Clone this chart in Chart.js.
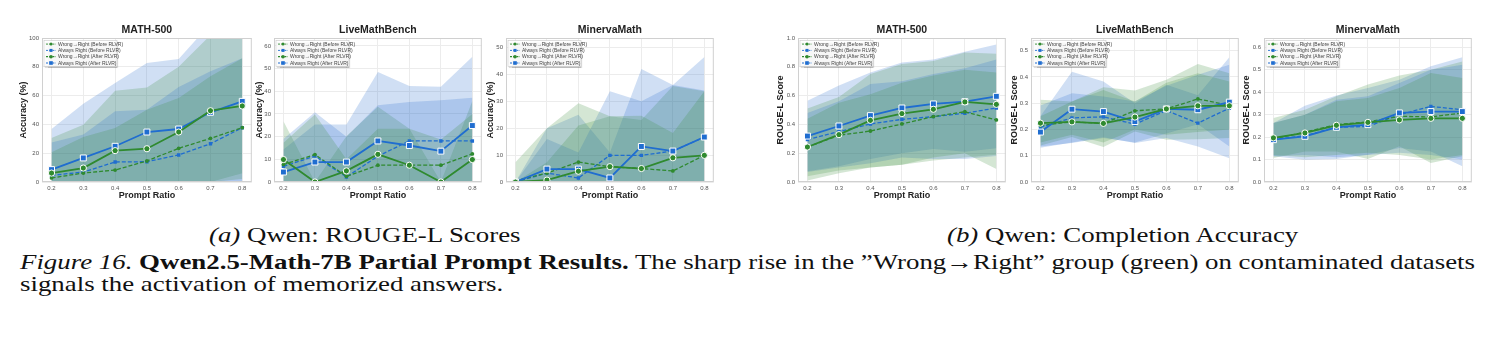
<!DOCTYPE html>
<html>
<head>
<meta charset="utf-8">
<script src="https://cdn.jsdelivr.net/npm/chart.js@4.4.0/dist/chart.umd.min.js"></script>
<style>
  body { margin: 0; background: #fff; width: 1493px; height: 345px; position: relative; overflow: hidden; }
  canvas { position: absolute; top: 0; }
  .cap { position: absolute; font-family: "Liberation Serif", "Times New Roman", serif; font-size: 21px; line-height: 22px; color: #111; white-space: nowrap; transform-origin: left top; }
</style>
</head>
<body>
<div class="cap" id="subA" style="top:224px"><i>(a)</i> Qwen: ROUGE-L Scores</div>
<div class="cap" id="subB" style="top:224px"><i>(b)</i> Qwen: Completion Accuracy</div>
<div class="cap" id="line1" style="left:20px;top:251px"><i>Figure 16.</i> <b>Qwen2.5-Math-7B Partial Prompt Results.</b> The sharp rise in the ”Wrong→Right” group (green) on contaminated datasets</div>
<div class="cap" id="line2" style="left:20px;top:273px">signals the activation of memorized answers.</div>

<script>
// x values and series names (series order: W->R before, AR before, W->R after, AR after)
const ratios = [0.2, 0.3, 0.4, 0.5, 0.6, 0.7, 0.8];
const seriesNames = ['Wrong→Right (Before RLVR)', 'Always Right (Before RLVR)', 'Wrong→Right (After RLVR)', 'Always Right (After RLVR)'];
const panelTitles = ['MATH-500', 'LiveMathBench', 'MinervaMath', 'MATH-500', 'LiveMathBench', 'MinervaMath'];

// accuracy panels
const accMathTicks = [0, 20, 40, 60, 80, 100];
const accMathMean = [
  [2.8, 6.2, 8.3, 14.6, 23.4, 30.3, 37.7],
  [4.6, 6.9, 13.9, 14.1, 18.8, 26.6, 37.7],
  [6.2, 9.7, 21.8, 23.1, 34.7, 49.5, 52.8],
  [8.6, 16.7, 24.8, 34.7, 36.8, 48.4, 56.0]
];
const accMathUpper = [
  [20.6, 31.3, 37.5, 50.2, 58.3, 73.4, 86],
  [27.5, 32.9, 49.1, 50.2, 66, 76.9, 86],
  [30.6, 39.8, 63.4, 65.7, 80, 102, 115],
  [36.8, 54.4, 68.7, 82.6, 85.4, 110, 112]
];
const accMathLower = [
  [0, 0, 0, 0, 0, 0, 2],
  [0, 0, 0, 0, 0, 0, 0],
  [0, 0, 0, 0, 0, 0, 6],
  [0, 0, 0, 0, 0, 0, 0]
];

const accLiveTicks = [0, 10, 20, 30, 40, 50, 60];
const accLiveMean = [
  [7.7, 12.1, 2.5, 7.4, 7.4, 7.4, 12.4],
  [6.9, 11.4, 2.2, 11.4, 18.1, 18.1, 18.1],
  [9.9, 0, 4.9, 12.2, 7.4, 0, 9.9],
  [4.4, 8.8, 8.8, 18.1, 16.1, 13.6, 24.9]
];
const accLiveUpper = [
  [17.3, 29.8, 10, 23.5, 23.5, 18.7, 30],
  [19, 30.8, 20, 33.8, 35.3, 36.1, 37.2],
  [26.8, 0, 20.2, 33.2, 23.5, 0, 35.7],
  [14.3, 25.4, 25.4, 48.5, 42.3, 42, 55.2]
];
const accLiveLower = [
  [0, 0, 0, 0, 0, 0, 0],
  [0, 0, 0, 0, 0, 0, 0],
  [0, 0, 0, 0, 0, 0, 0],
  [0, 0, 0, 0, 0, 0, 0]
];

const accMinervaTicks = [0, 10, 20, 30, 40, 50];
const accMinervaMean = [
  [0.5, 3.3, 7.4, 5.7, 5.0, 4.1, 9.9],
  [0, 3.3, 1.5, 9.9, 9.9, 11.5, 16.7],
  [0, 0.7, 4.0, 5.7, 5.0, 9.0, 9.9],
  [0, 4.8, 4.8, 1.5, 13.2, 11.5, 16.7]
];
const accMinervaUpper = [
  [7.3, 20, 29.3, 24.4, 24.6, 18.2, 33.7],
  [0, 16, 11, 33.7, 30, 36, 34],
  [0, 7.3, 21, 24.4, 23, 35.7, 33.7],
  [0, 20, 25, 11, 42, 36, 46.4]
];
const accMinervaLower = [
  [0, 0, 0, 0, 0, 0, 0],
  [0, 0, 0, 0, 0, 0, 0],
  [0, 0, 0, 0, 0, 0, 0],
  [0, 0, 0, 0, 0, 0, 0]
];

// ROUGE-L panels
const rougeMathTicks = [0, 0.2, 0.4, 0.6, 0.8, 1.0];
const rougeMathMean = [
  [0.243, 0.324, 0.354, 0.403, 0.454, 0.488, 0.431],
  [0.294, 0.35, 0.403, 0.435, 0.454, 0.477, 0.514],
  [0.243, 0.329, 0.428, 0.475, 0.505, 0.556, 0.539],
  [0.319, 0.389, 0.461, 0.514, 0.542, 0.558, 0.595]
];
const rougeMathUpper = [
  [0.44, 0.55, 0.61, 0.69, 0.74, 0.78, 0.76],
  [0.48, 0.56, 0.68, 0.70, 0.75, 0.79, 0.85],
  [0.51, 0.59, 0.75, 0.82, 0.84, 0.90, 0.89],
  [0.565, 0.67, 0.76, 0.83, 0.85, 0.905, 0.955]
];
const rougeMathLower = [
  [0.04, 0.08, 0.10, 0.12, 0.17, 0.20, 0.09],
  [0.07, 0.10, 0.13, 0.17, 0.16, 0.16, 0.18],
  [0.01, 0.06, 0.10, 0.12, 0.15, 0.17, 0.19],
  [0.075, 0.11, 0.16, 0.20, 0.23, 0.21, 0.235]
];

const rougeLiveTicks = [0, 0.1, 0.2, 0.3, 0.4, 0.5];
const rougeLiveMean = [
  [0.215, 0.229, 0.223, 0.271, 0.278, 0.316, 0.292],
  [0.208, 0.244, 0.248, 0.22, 0.272, 0.224, 0.281],
  [0.224, 0.229, 0.223, 0.247, 0.278, 0.29, 0.29],
  [0.19, 0.277, 0.268, 0.23, 0.278, 0.275, 0.304]
];
const rougeLiveUpper = [
  [0.25, 0.306, 0.35, 0.306, 0.378, 0.414, 0.382],
  [0.291, 0.338, 0.325, 0.306, 0.366, 0.408, 0.446],
  [0.313, 0.306, 0.361, 0.348, 0.389, 0.449, 0.414],
  [0.25, 0.42, 0.382, 0.30, 0.37, 0.33, 0.475]
];
const rougeLiveLower = [
  [0.15, 0.18, 0.15, 0.20, 0.18, 0.19, 0.20],
  [0.13, 0.15, 0.17, 0.148, 0.167, 0.135, 0.09],
  [0.139, 0.171, 0.133, 0.192, 0.161, 0.163, 0.167],
  [0.135, 0.148, 0.167, 0.15, 0.185, 0.22, 0.135]
];

const rougeMinervaTicks = [0, 0.1, 0.2, 0.3, 0.4, 0.5, 0.6];
const rougeMinervaMean = [
  [0.191, 0.222, 0.255, 0.267, 0.292, 0.289, 0.307],
  [0.188, 0.206, 0.243, 0.247, 0.299, 0.336, 0.321],
  [0.196, 0.218, 0.252, 0.265, 0.276, 0.283, 0.283],
  [0.188, 0.203, 0.243, 0.255, 0.307, 0.313, 0.313]
];
const rougeMinervaUpper = [
  [0.262, 0.299, 0.359, 0.373, 0.418, 0.484, 0.462],
  [0.262, 0.299, 0.366, 0.381, 0.44, 0.499, 0.521],
  [0.284, 0.321, 0.381, 0.433, 0.473, 0.499, 0.536],
  [0.262, 0.339, 0.385, 0.418, 0.455, 0.514, 0.554]
];
const rougeMinervaLower = [
  [0.12, 0.11, 0.12, 0.13, 0.12, 0.10, 0.12],
  [0.114, 0.12, 0.11, 0.12, 0.13, 0.12, 0.10],
  [0.107, 0.136, 0.136, 0.102, 0.159, 0.084, 0.114],
  [0.114, 0.099, 0.102, 0.121, 0.151, 0.136, 0.07]
];

const GREEN = '#2f8a2f', BLUE = '#1f6dd0';
const seriesStyle = [
  { color: GREEN, band: 'rgba(60,140,60,0.22)', dashed: true, point: 'circle' },
  { color: BLUE, band: 'rgba(40,110,205,0.22)', dashed: true, point: 'rect' },
  { color: GREEN, band: 'rgba(60,140,60,0.22)', dashed: false, point: 'circle' },
  { color: BLUE, band: 'rgba(40,110,205,0.22)', dashed: false, point: 'rect' }
];

const panels = [
  { mean: accMathMean, up: accMathUpper, lo: accMathLower, ticks: accMathTicks, yMax: 100, dec: 0, yTitle: 'Accuracy (%)', left: 42, w: 211, tPad: 16.6 },
  { mean: accLiveMean, up: accLiveUpper, lo: accLiveLower, ticks: accLiveTicks, yMax: 63.5, dec: 0, yTitle: 'Accuracy (%)', left: 274, w: 209, tPad: 19.9 },
  { mean: accMinervaMean, up: accMinervaUpper, lo: accMinervaLower, ticks: accMinervaTicks, yMax: 53.5, dec: 0, yTitle: 'Accuracy (%)', left: 506, w: 209, tPad: 19.3 },
  { mean: rougeMathMean, up: rougeMathUpper, lo: rougeMathLower, ticks: rougeMathTicks, yMax: 1.0, dec: 1, yTitle: 'ROUGE-L Score', left: 798, w: 209, tPad: 17.6 },
  { mean: rougeLiveMean, up: rougeLiveUpper, lo: rougeLiveLower, ticks: rougeLiveTicks, yMax: 0.548, dec: 1, yTitle: 'ROUGE-L Score', left: 1031, w: 209, tPad: 18.1 },
  { mean: rougeMinervaMean, up: rougeMinervaUpper, lo: rougeMinervaLower, ticks: rougeMinervaTicks, yMax: 0.64, dec: 1, yTitle: 'ROUGE-L Score', left: 1264, w: 209, tPad: 17.6 }
];

const toPts = arr => arr.map((v, i) => ({ x: ratios[i], y: v }));

function drawMarker(ctx, style, x, y, r) {
  ctx.beginPath();
  if (style === 'rect') ctx.rect(x - r, y - r, 2 * r, 2 * r);
  else ctx.arc(x, y, r, 0, Math.PI * 2);
  ctx.fill();
}

// frame, panel title and the small legend box inside the plot
const panelDecor = {
  id: 'panelDecor',
  afterDatasetsDraw(chart) {
    const { ctx, chartArea: a } = chart;
    ctx.save();
    ctx.strokeStyle = '#d0d0d0';
    ctx.lineWidth = 1;
    ctx.strokeRect(a.left + 0.5, a.top + 0.5, a.width - 1, a.height - 1);
    ctx.restore();
  },
  afterDraw(chart, args, opts) {
    const { ctx, chartArea: a } = chart;
    ctx.save();
    ctx.font = 'bold 10.5px "Liberation Sans", Arial, sans-serif';
    ctx.fillStyle = '#222';
    ctx.textAlign = 'center';
    ctx.textBaseline = 'middle';
    ctx.fillText(opts.title, (a.left + a.right) / 2, a.top - 8);

    const bx = a.left + 2, by = a.top + 2.5, bw = 73, bh = 26;
    ctx.shadowColor = 'rgba(0,0,0,0.3)';
    ctx.shadowOffsetX = 1;
    ctx.shadowOffsetY = 1;
    ctx.shadowBlur = 1;
    ctx.fillStyle = 'rgba(255,255,255,0.88)';
    ctx.fillRect(bx, by, bw, bh);
    ctx.shadowColor = 'transparent';
    ctx.strokeStyle = '#c8c8c8';
    ctx.lineWidth = 0.6;
    ctx.strokeRect(bx, by, bw, bh);

    seriesNames.forEach((name, i) => {
      const s = seriesStyle[i];
      const y = by + 3.6 + i * 6.3;
      ctx.strokeStyle = s.color;
      ctx.fillStyle = s.color;
      ctx.lineWidth = s.dashed ? 0.9 : 1.2;
      ctx.setLineDash([2, 1.2]);
      ctx.beginPath();
      ctx.moveTo(bx + 2, y);
      ctx.lineTo(bx + 12, y);
      ctx.stroke();
      ctx.setLineDash([]);
      drawMarker(ctx, s.point, bx + 7, y, s.dashed ? 1.5 : 1.8);
      ctx.fillStyle = '#444';
      ctx.font = '5px "Liberation Sans", Arial, sans-serif';
      ctx.textAlign = 'left';
      ctx.fillText(name, bx + 14, y + 0.3);
    });
    ctx.restore();
  }
};

panels.forEach((p, k) => {
  const canvas = document.createElement('canvas');
  canvas.width = p.w + 44;
  canvas.height = 205;
  canvas.style.left = (p.left - 40) + 'px';
  document.body.appendChild(canvas);

  const datasets = [];
  p.mean.forEach((m, i) => {
    const s = seriesStyle[i];
    datasets.push({
      data: toPts(m),
      borderColor: s.color,
      backgroundColor: s.color,
      borderWidth: s.dashed ? 1.3 : 1.8,
      borderDash: s.dashed ? [4, 2] : [],
      pointStyle: s.point,
      pointRadius: s.dashed ? (s.point === 'rect' ? 2.4 : 1.9) : (s.point === 'rect' ? 4.2 : 3.1),
      pointBackgroundColor: s.color,
      pointBorderColor: s.dashed ? s.color : '#fff',
      pointBorderWidth: s.dashed ? 0 : 1,
      fill: false,
      tension: 0,
      order: s.dashed ? 1 : 0
    });
  });
  p.up.forEach((u, i) => {
    const s = seriesStyle[i];
    datasets.push({
      data: toPts(u), fill: '+1', backgroundColor: s.band,
      borderColor: 'transparent', borderWidth: 0, pointRadius: 0, tension: 0, order: 2
    });
    datasets.push({
      data: toPts(p.lo[i]), fill: false,
      borderColor: 'transparent', borderWidth: 0, pointRadius: 0, tension: 0, order: 2
    });
  });

  new Chart(canvas.getContext('2d'), {
    type: 'line',
    data: { datasets },
    plugins: [panelDecor],
    options: {
      responsive: false,
      animation: false,
      layout: { padding: { top: 38, right: 4, left: 0, bottom: 0 } },
      plugins: {
        legend: { display: false },
        tooltip: { enabled: false },
        filler: { drawTime: 'beforeDatasetsDraw' },
        panelDecor: { title: panelTitles[k] }
      },
      scales: {
        x: {
          type: 'linear',
          min: 0.17,
          max: 0.83,
          afterBuildTicks: s => { s.ticks = ratios.map(v => ({ value: v })); },
          afterFit: s => { s.height = 23; },
          ticks: {
            callback: v => v.toFixed(1),
            font: { family: '"Liberation Sans", Arial, sans-serif', size: 6 },
            color: '#555', padding: 3, maxRotation: 0, autoSkip: false
          },
          grid: { color: '#ececec', drawTicks: false },
          border: { display: false },
          title: {
            display: true, text: 'Prompt Ratio', color: '#222',
            font: { family: '"Liberation Sans", Arial, sans-serif', size: 9, weight: 'bold' },
            padding: { top: 0, bottom: 4 }
          }
        },
        y: {
          min: 0,
          max: p.yMax,
          afterBuildTicks: s => { s.ticks = p.ticks.map(v => ({ value: v })); },
          afterFit: s => { s.width = 40; },
          ticks: {
            callback: v => v.toFixed(p.dec),
            font: { family: '"Liberation Sans", Arial, sans-serif', size: 6 },
            color: '#555', padding: 3
          },
          grid: { color: '#ececec', drawTicks: false },
          border: { display: false },
          title: {
            display: true, text: p.yTitle, color: '#222',
            font: { family: '"Liberation Sans", Arial, sans-serif', size: 9, weight: 'bold' },
            padding: { top: p.tPad, bottom: 0 }
          }
        }
      }
    }
  });
});

// the caption text in the figure is wider than the font: stretch horizontally so line 1 fills the width
const line1 = document.getElementById('line1');
const sx = 1455 / line1.getBoundingClientRect().width;
['line1', 'line2'].forEach(id => {
  document.getElementById(id).style.transform = 'scaleX(' + sx + ')';
});
[['subA', 365], ['subB', 1123]].forEach(([id, cx]) => {
  const el = document.getElementById(id);
  const w = el.getBoundingClientRect().width * sx;
  el.style.left = (cx - w / 2) + 'px';
  el.style.transform = 'scaleX(' + sx + ')';
});
</script>
</body>
</html>
